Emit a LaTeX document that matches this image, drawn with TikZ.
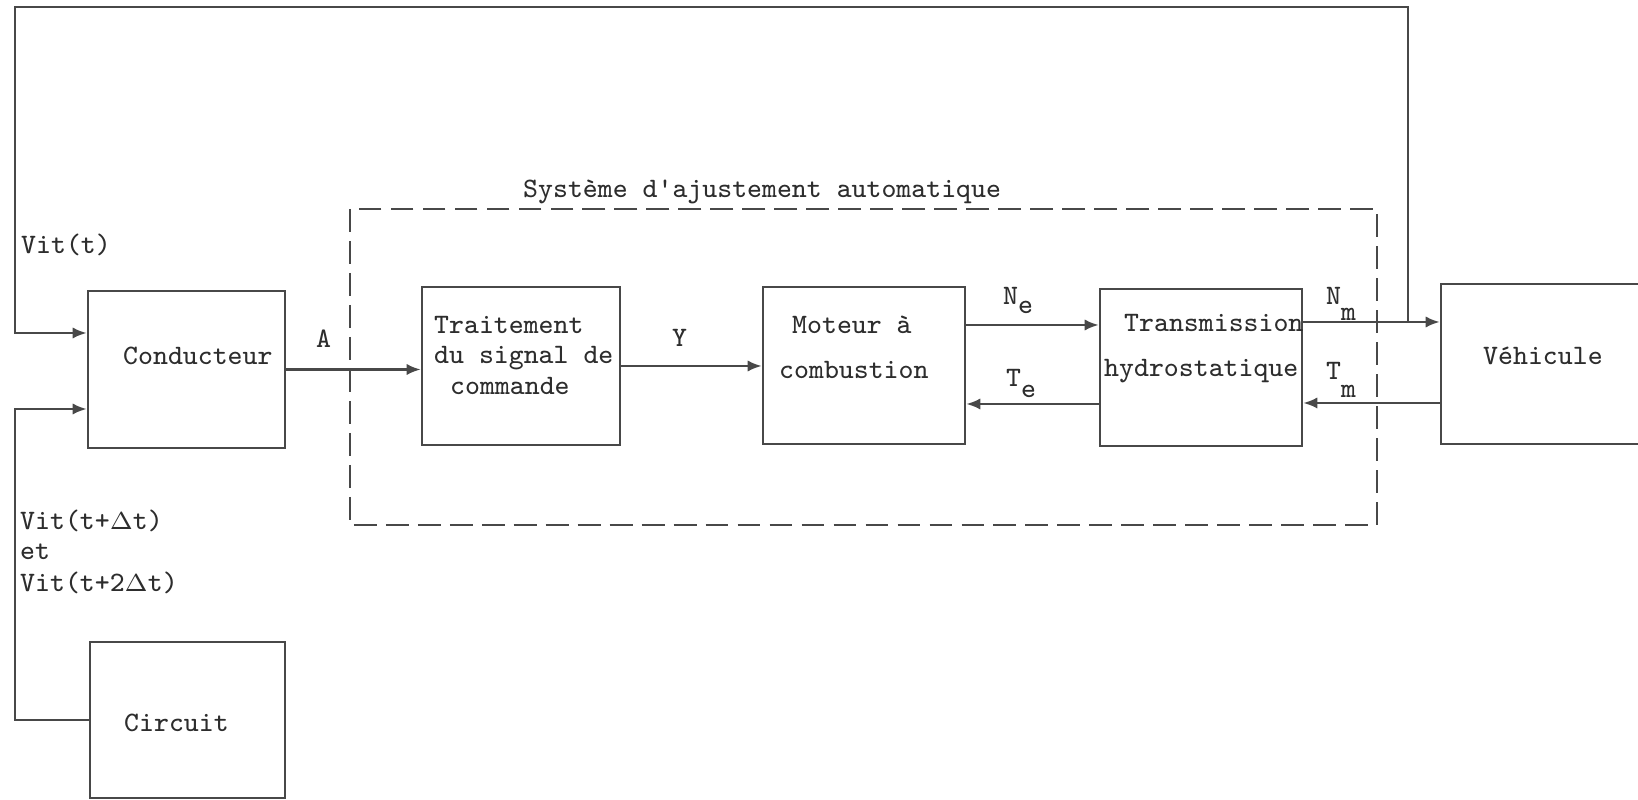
\documentclass[tikz,border=0pt]{standalone}
\usepackage{xcolor}
\usepackage{tikz}
\usetikzlibrary{arrows.meta}
\definecolor{traitgris}{RGB}{72,72,72}
\definecolor{textegris}{RGB}{45,45,45}
\newcommand{\petitdelta}{{\fontsize{6.8}{7}\selectfont$\Delta$}}

\begin{document}
\begin{tikzpicture}[x=0.1mm, y=-0.1mm, font=\fontsize{8}{9}\ttfamily, line width=0.7pt,
  bloc/.style={draw=traitgris, rectangle, inner sep=0pt},
  texte/.style={anchor=base west, inner sep=0pt, text=textegris},
  fleche/.style={draw=traitgris, -{Latex[length=4pt, width=3.2pt]}},
  pointille/.style={draw=traitgris, line width=0.75pt, dash pattern=on 6.5pt off 2.6pt}]
  \useasboundingbox[fill=white] (0,0) rectangle (1638,800);
  \clip (0,0) rectangle (1638,800);

  \node[bloc, minimum width=19.7mm, minimum height=15.7mm] (cond) at (186.5,369.5) {};
  \node[bloc, minimum width=19.5mm, minimum height=15.6mm] (circ) at (187.5,720) {};
  \node[bloc, minimum width=19.8mm, minimum height=15.8mm] (trait) at (521,366) {};
  \node[bloc, minimum width=20.2mm, minimum height=15.7mm] (mot) at (864,365.5) {};
  \node[bloc, minimum width=20.2mm, minimum height=15.7mm] (trans) at (1201,367.5) {};
  \node[bloc, minimum width=20.9mm, minimum height=16mm] (veh) at (1545.5,364) {};

  \node[texte] (t-cond) at (122,365) {Conducteur};
  \node[texte] (t-circ) at (123,732) {Circuit};
  \node[texte] (t-trait1) at (433,334) {Traitement};
  \node[texte] (t-trait2) at (433,364) {du signal de};
  \node[texte] (t-trait3) at (449,395) {commande};
  \node[texte] (t-mot1) at (791,334) {Moteur à};
  \node[texte] (t-mot2) at (778,379) {combustion};
  \node[texte] (t-trans1) at (1123,332) {Transmission};
  \node[texte] (t-trans2) at (1103,377) {hydrostatique};
  \node[texte] (t-veh) at (1482,365) {Véhicule};

  \draw[pointille] (350,209) rectangle (1377,525);
  \node[texte] (titre) at (522,198) {Système d\textquotesingle ajustement automatique};

  \draw[fleche] (cond.east) -- (cond.east -| trait.west);
  \draw[fleche] (trait.east) -- (trait.east -| mot.west);
  \draw[fleche] ([yshift=4.05mm]mot.east) -- ([yshift=4.05mm]mot.east -| trans.west);
  \draw[fleche] ([yshift=-3.65mm]trans.west) -- ([yshift=-3.65mm]trans.west -| mot.east);
  \draw[fleche] ([yshift=4.55mm]trans.east) -- ([yshift=4.55mm]trans.east -| veh.west);
  \draw[fleche] ([yshift=-3.9mm]veh.west) -- ([yshift=-3.9mm]veh.west -| trans.east);

  \coordinate (coin-d) at (1408,7);
  \coordinate (coin-g) at (15,7);
  \draw[fleche] ([yshift=4.55mm]trans.east -| coin-d) -- (coin-d) -- (coin-g) |- ([yshift=3.65mm]cond.west);
  \draw[fleche] (circ.west) -- (circ.west -| coin-g) |- ([yshift=-3.95mm]cond.west);

  \node[texte] (l-a) at (315,348) {A};
  \node[texte] (l-y) at (671,347) {Y};
  \node[texte] (l-ne) at (1002,305) {N\raisebox{-2.3pt}{e}};
  \node[texte] (l-te) at (1005,387) {T\raisebox{-3pt}{e}};
  \node[texte] (l-nm) at (1325,305) {N\raisebox{-4.3pt}{m}};
  \node[texte] (l-tm) at (1325,380) {T\raisebox{-5pt}{m}};

  \node[texte] (l-vit) at (20,254) {Vit(t)};
  \node[texte] (l-vit1) at (19,530) {Vit(t+\petitdelta t)};
  \node[texte] (l-et) at (19,560) {et};
  \node[texte] (l-vit2) at (19,592) {Vit(t+2\petitdelta t)};
\end{tikzpicture}
\end{document}
